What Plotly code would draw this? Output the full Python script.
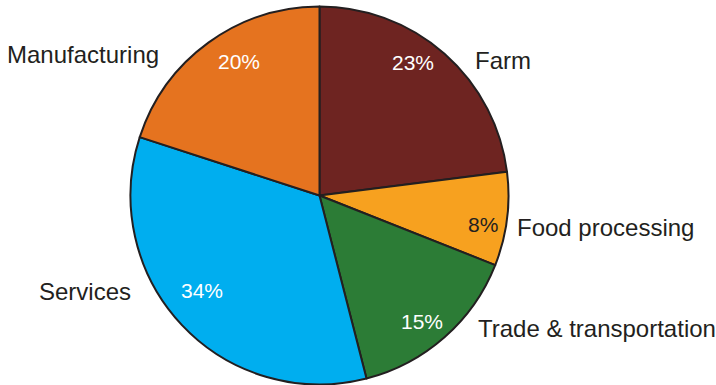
import math
import plotly.graph_objects as go

# Share of jobs by sector (percent)
sectors = ["Farm", "Food processing", "Trade & transportation", "Services", "Manufacturing"]
shares = [23, 8, 15, 34, 20]

slice_colors = ["#6E2421", "#F7A11F", "#2C7C36", "#00AEEF", "#E5731F"]
pct_text_colors = ["#FFFFFF", "#231F20", "#FFFFFF", "#FFFFFF", "#FFFFFF"]

# Canvas and pie geometry (pixels)
W, H = 716, 385
CX, CY, R = 319.5, 195.5, 189

# Fine placement of the percentage labels: (angle nudge in degrees, radius fraction)
pct_place = [(-6.4, 0.86), (2.8, 0.88), (2.4, 0.86), (4.2, 0.80), (5.0, 0.83)]
# Sector name placement: (x px, y px, anchor)
name_place = [
    (473, 60, "left"),
    (515, 227, "left"),
    (476, 328, "left"),
    (133, 291, "right"),
    (161, 55, "right"),
]

FONT = "Liberation Sans, Arial, sans-serif"
INK = "#231F20"

fig = go.Figure(
    go.Pie(
        labels=sectors,
        values=shares,
        sort=False,
        direction="clockwise",
        rotation=0,
        marker=dict(colors=slice_colors, line=dict(color=INK, width=2)),
        textinfo="none",
        hoverinfo="label+percent",
        showlegend=False,
        domain=dict(
            x=[(CX - R) / W, (CX + R) / W],
            y=[1 - (CY + R) / H, 1 - (CY - R) / H],
        ),
    )
)

total = sum(shares)
annotations = []
cum = 0.0
for name, val, tc, (dth, rf), (nx, ny, anc) in zip(
    sectors, shares, pct_text_colors, pct_place, name_place
):
    mid = (cum + val / 2) / total * 360 + dth
    cum += val
    a = math.radians(mid)
    px = CX + rf * R * math.sin(a)
    py = CY - rf * R * math.cos(a)
    annotations.append(
        dict(
            x=px / W, y=1 - py / H, xref="paper", yref="paper",
            text=f"{round(val / total * 100)}%", showarrow=False,
            xanchor="center", yanchor="middle",
            font=dict(family=FONT, size=21, color=tc),
        )
    )
    annotations.append(
        dict(
            x=nx / W, y=1 - ny / H, xref="paper", yref="paper",
            text=name, showarrow=False,
            xanchor=anc, yanchor="middle",
            font=dict(family=FONT, size=24, color=INK),
        )
    )

fig.update_layout(
    width=W,
    height=H,
    margin=dict(l=0, r=0, t=0, b=0),
    paper_bgcolor="white",
    plot_bgcolor="white",
    annotations=annotations,
)

fig.write_html("out.html")
